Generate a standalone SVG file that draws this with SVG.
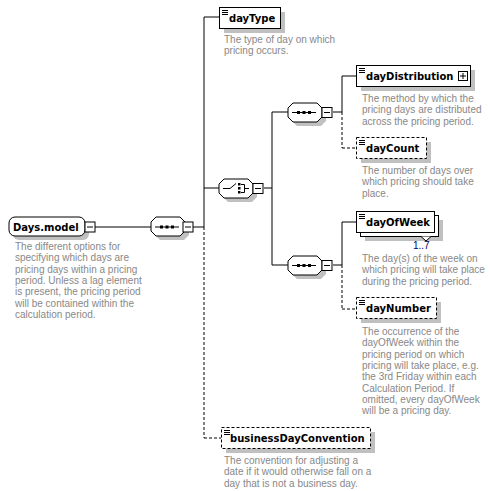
<svg xmlns="http://www.w3.org/2000/svg" width="490" height="491" viewBox="0 0 490 491">
<style>
.bg{fill:#ffffff}
.box{fill:#ffffff;stroke:#000000;stroke-width:1}
.dbox{fill:#ffffff;stroke:#000000;stroke-width:1;stroke-dasharray:3,2}
.sh{fill:#c0c0c0}
.ln{fill:none;stroke:#000000;stroke-width:1}
.dl{fill:none;stroke:#000000;stroke-width:1;stroke-dasharray:3,2}
.lbl{font-family:"DejaVu Sans",sans-serif;font-size:10px;font-weight:bold;fill:#000000}
.desc{font-family:"Liberation Sans",Arial,sans-serif;font-size:10px;fill:#888888}
.card{font-family:"Liberation Sans",Arial,sans-serif;font-size:10px;fill:#000060}
.ic{fill:#000000}
</style>
<defs>
<g id="minus"><rect x="0" y="0" width="10" height="10" class="box"/><line x1="2" y1="5" x2="8" y2="5" class="ln"/></g>
<g id="doc"><line x1="0" y1="0.5" x2="6" y2="0.5" class="ln"/><line x1="0" y1="2.5" x2="6" y2="2.5" class="ln"/><line x1="0" y1="4.5" x2="6" y2="4.5" class="ln"/></g>
<g id="oct"><path d="M5,0 H29 L34,5 V14 L29,19 H5 L0,14 V5 Z"/></g>
</defs>
<rect class="bg" x="0" y="0" width="490" height="491"/>

<g id="connectors">
<line class="ln" x1="95" y1="227" x2="151" y2="227"/>
<line class="ln" x1="193" y1="227" x2="204" y2="227"/>
<line class="ln" x1="204" y1="17" x2="204" y2="227"/>
<line class="dl" x1="204" y1="227" x2="204" y2="438"/>
<line class="ln" x1="204" y1="17" x2="219" y2="17"/>
<line class="dl" x1="204" y1="438" x2="221" y2="438"/>
<line class="ln" x1="204" y1="188" x2="219" y2="188"/>
<line class="ln" x1="264" y1="188" x2="272" y2="188"/>
<line class="ln" x1="272" y1="112" x2="272" y2="265"/>
<line class="ln" x1="272" y1="112" x2="288" y2="112"/>
<line class="ln" x1="272" y1="265" x2="288" y2="265"/>
<line class="ln" x1="333" y1="112" x2="342" y2="112"/>
<line class="ln" x1="342" y1="76" x2="342" y2="112"/>
<line class="dl" x1="342" y1="112" x2="342" y2="148"/>
<line class="ln" x1="342" y1="76" x2="356" y2="76"/>
<line class="dl" x1="342" y1="148" x2="356" y2="148"/>
<line class="ln" x1="333" y1="265" x2="342" y2="265"/>
<line class="ln" x1="342" y1="222" x2="342" y2="265"/>
<line class="dl" x1="342" y1="265" x2="342" y2="309"/>
<line class="ln" x1="342" y1="222" x2="356" y2="222"/>
<line class="dl" x1="342" y1="309" x2="356" y2="309"/>
</g>

<g id="days-model">
<rect class="sh" x="13" y="221" width="76" height="19" rx="6"/>
<rect class="box" x="9" y="217" width="76" height="19" rx="6"/>
<text class="lbl" x="13" y="231">Days.model</text>
<use href="#minus" x="85" y="222"/>
<text class="desc"><tspan x="15" y="250">The different options for</tspan><tspan x="15" y="261.3">specifying which days are</tspan><tspan x="15" y="272.6">pricing days within a pricing</tspan><tspan x="15" y="283.9">period. Unless a lag element</tspan><tspan x="15" y="295.2">is present, the pricing period</tspan><tspan x="15" y="306.5">will be contained within the</tspan><tspan x="15" y="317.8">calculation period.</tspan></text>
</g>

<g id="seq-main">
<use href="#oct" x="155" y="221" class="sh"/>
<use href="#oct" x="151" y="217" fill="#ffffff" stroke="#000000"/>
<line class="ln" x1="155" y1="227" x2="179" y2="227"/>
<rect class="ic" x="160" y="225.5" width="3" height="3"/><rect class="ic" x="165.5" y="225.5" width="3" height="3"/><rect class="ic" x="171" y="225.5" width="3" height="3"/>
<use href="#minus" x="183" y="222"/>
</g>

<g id="choice">
<use href="#oct" x="223" y="183" class="sh"/>
<use href="#oct" x="219" y="179" fill="#ffffff" stroke="#000000"/>
<path class="ln" d="M223,188.5 H230 L236,183.5"/>
<rect class="ic" x="238" y="183" width="2.5" height="2.5"/><rect class="ic" x="238" y="187" width="2.5" height="2.5"/><rect class="ic" x="238" y="191" width="2.5" height="2.5"/>
<path class="ln" d="M241,184.5 H244.5 V192.5 H241 M244.5,188.5 H249"/>
<use href="#minus" x="253" y="183.5"/>
</g>

<g id="seq-upper">
<use href="#oct" x="292" y="107" class="sh"/>
<use href="#oct" x="288" y="103" fill="#ffffff" stroke="#000000"/>
<line class="ln" x1="292" y1="112.5" x2="316" y2="112.5"/>
<rect class="ic" x="297" y="111" width="3" height="3"/><rect class="ic" x="302.5" y="111" width="3" height="3"/><rect class="ic" x="308" y="111" width="3" height="3"/>
<use href="#minus" x="322" y="107.5"/>
</g>

<g id="seq-lower">
<use href="#oct" x="292" y="260" class="sh"/>
<use href="#oct" x="288" y="256" fill="#ffffff" stroke="#000000"/>
<line class="ln" x1="292" y1="265.5" x2="316" y2="265.5"/>
<rect class="ic" x="297" y="264" width="3" height="3"/><rect class="ic" x="302.5" y="264" width="3" height="3"/><rect class="ic" x="308" y="264" width="3" height="3"/>
<use href="#minus" x="322" y="260.5"/>
</g>

<g id="dayType">
<rect class="sh" x="224" y="12" width="61" height="21"/>
<rect class="box" x="219.5" y="7.5" width="61" height="21"/>
<use href="#doc" x="222" y="10"/>
<text class="lbl" x="229" y="22">dayType</text>
<text class="desc"><tspan x="224" y="43">The type of day on which</tspan><tspan x="224" y="54.3">pricing occurs.</tspan></text>
</g>

<g id="dayDistribution">
<rect class="sh" x="361" y="70" width="114" height="21"/>
<rect class="box" x="356.5" y="65.5" width="114" height="21"/>
<use href="#doc" x="359" y="68"/>
<text class="lbl" x="366" y="80">dayDistribution</text>
<rect class="box" x="458.5" y="71.5" width="9" height="9"/>
<line class="ln" x1="460" y1="76" x2="466" y2="76"/><line class="ln" x1="463" y1="73" x2="463" y2="79"/>
<text class="desc"><tspan x="362" y="102">The method by which the</tspan><tspan x="362" y="113.3">pricing days are distributed</tspan><tspan x="362" y="124.6">across the pricing period.</tspan></text>
</g>

<g id="dayCount">
<rect class="sh" x="361" y="142" width="70" height="21"/>
<rect class="dbox" x="356.5" y="137.5" width="70" height="21"/>
<use href="#doc" x="359" y="140"/>
<text class="lbl" x="366" y="152">dayCount</text>
<text class="desc"><tspan x="362" y="174">The number of days over</tspan><tspan x="362" y="185.3">which pricing should take</tspan><tspan x="362" y="196.6">place.</tspan></text>
</g>

<g id="dayOfWeek">
<rect class="sh" x="365" y="220" width="78" height="21"/>
<rect class="box" x="360.5" y="215.5" width="78" height="21"/>
<rect class="box" x="356.5" y="211.5" width="78" height="21"/>
<use href="#doc" x="359" y="214"/>
<text class="lbl" x="366" y="226">dayOfWeek</text>
<path class="box" d="M421,236.5 L426,241 L431,236.5"/>
<text class="card" x="413" y="249">1..7</text>
<text class="desc"><tspan x="362" y="262">The day(s) of the week on</tspan><tspan x="362" y="273.3">which pricing will take place</tspan><tspan x="362" y="284.6">during the pricing period.</tspan></text>
</g>

<g id="dayNumber">
<rect class="sh" x="361" y="302" width="80" height="21"/>
<rect class="dbox" x="356.5" y="297.5" width="80" height="21"/>
<use href="#doc" x="359" y="300"/>
<text class="lbl" x="366" y="312">dayNumber</text>
<text class="desc"><tspan x="362" y="335">The occurrence of the</tspan><tspan x="362" y="346.3">dayOfWeek within the</tspan><tspan x="362" y="357.6">pricing period on which</tspan><tspan x="362" y="368.9">pricing will take place, e.g.</tspan><tspan x="362" y="380.2">the 3rd Friday within each</tspan><tspan x="362" y="391.5">Calculation Period. If</tspan><tspan x="362" y="402.8">omitted, every dayOfWeek</tspan><tspan x="362" y="414.1">will be a pricing day.</tspan></text>
</g>

<g id="businessDayConvention">
<rect class="sh" x="226" y="432" width="149" height="21"/>
<rect class="dbox" x="221.5" y="427.5" width="149" height="21"/>
<use href="#doc" x="224" y="430"/>
<text class="lbl" x="230" y="442">businessDayConvention</text>
<text class="desc"><tspan x="224" y="464">The convention for adjusting a</tspan><tspan x="224" y="475.3">date if it would otherwise fall on a</tspan><tspan x="224" y="486.6">day that is not a business day.</tspan></text>
</g>
</svg>
